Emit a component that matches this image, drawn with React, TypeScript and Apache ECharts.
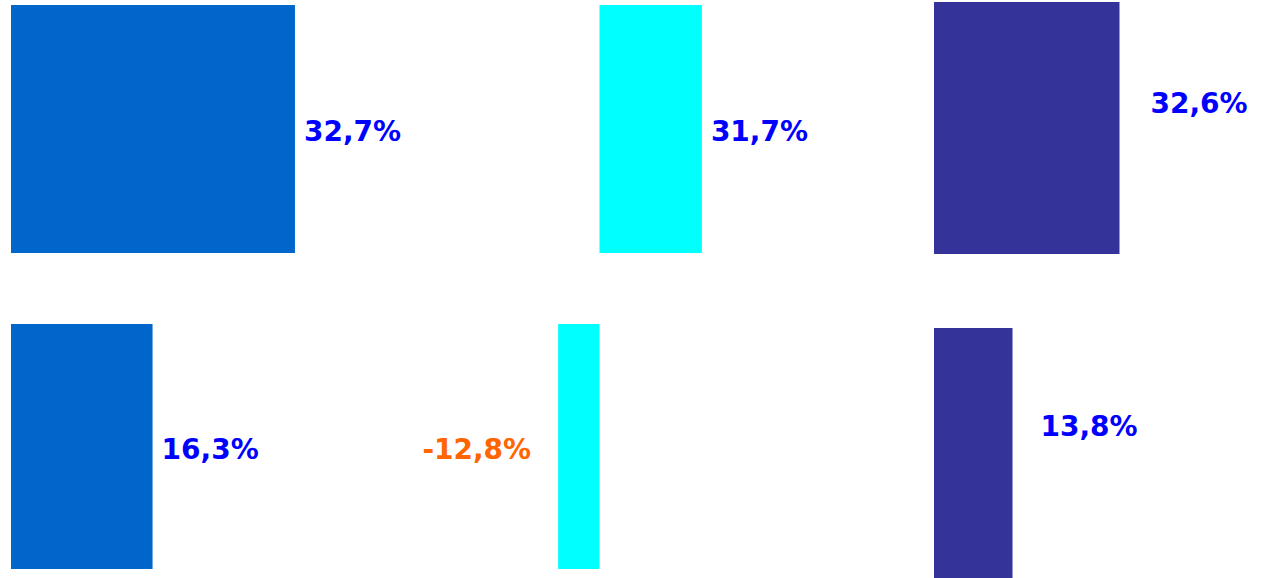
import React, { useEffect, useRef } from "react";
import * as echarts from "echarts";

const panelNames = ["A", "B", "C"];
const topValues = [32.7, 31.7, 32.6];
const bottomValues = [16.3, -12.8, 13.8];
const barColors = ["#0066CC", "#00FFFF", "#333399"];
const positiveLabelColor = "#0000FF";
const negativeLabelColor = "#FF6600";

const fmt = (v: number) => v.toFixed(1).replace(".", ",") + "%";

// layout per panel: [left, top, width, height, min, max]
const layouts = [
  [11, 5, 434.2, 248, 0, 50],
  [534.9, 5, 193.8, 248, -20, 40],
  [934, 2, 227.6, 252, 0, 40],
  [11, 324, 434.2, 245, 0, 50],
  [534.9, 324, 193.8, 245, -20, 40],
  [934, 328, 227.6, 250, 0, 40],
];
const labelOffsets = [
  [0, 2],
  [0, 2],
  [22, -25],
  [0, 3],
  [0, 3],
  [19, -27],
];

export default function App() {
  const ref = useRef<HTMLDivElement>(null);
  useEffect(() => {
    if (!ref.current) return;
    const chart = echarts.init(ref.current, undefined, { renderer: "svg" });
    const values = [...topValues, ...bottomValues];
    const grids: any[] = [];
    const xAxes: any[] = [];
    const yAxes: any[] = [];
    const series: any[] = [];
    values.forEach((v, i) => {
      const [left, top, width, height, min, max] = layouts[i];
      const col = i % 3;
      grids.push({ left, top, width, height, containLabel: false });
      xAxes.push({
        type: "value",
        gridIndex: i,
        min,
        max,
        show: false,
      });
      yAxes.push({
        type: "category",
        gridIndex: i,
        data: [panelNames[col]],
        show: false,
      });
      const neg = v < 0;
      series.push({
        type: "bar",
        xAxisIndex: i,
        yAxisIndex: i,
        data: [v],
        barWidth: "100%",
        itemStyle: { color: barColors[col] },
        label: {
          show: true,
          position: neg ? "left" : "right",
          distance: neg ? 27 : 9,
          offset: labelOffsets[i],
          formatter: (p: any) => fmt(p.value),
          color: neg ? negativeLabelColor : positiveLabelColor,
          fontFamily: "DejaVu Sans",
          fontWeight: "bold",
          fontSize: 28,
        },
      });
    });
    chart.setOption({
      animation: false,
      backgroundColor: "#FFFFFF",
      grid: grids,
      xAxis: xAxes,
      yAxis: yAxes,
      series,
    });
    return () => chart.dispose();
  }, []);
  return (
    <div
      ref={ref}
      style={{ position: "fixed", left: 0, top: 0, width: 1269, height: 578 }}
    />
  );
}
